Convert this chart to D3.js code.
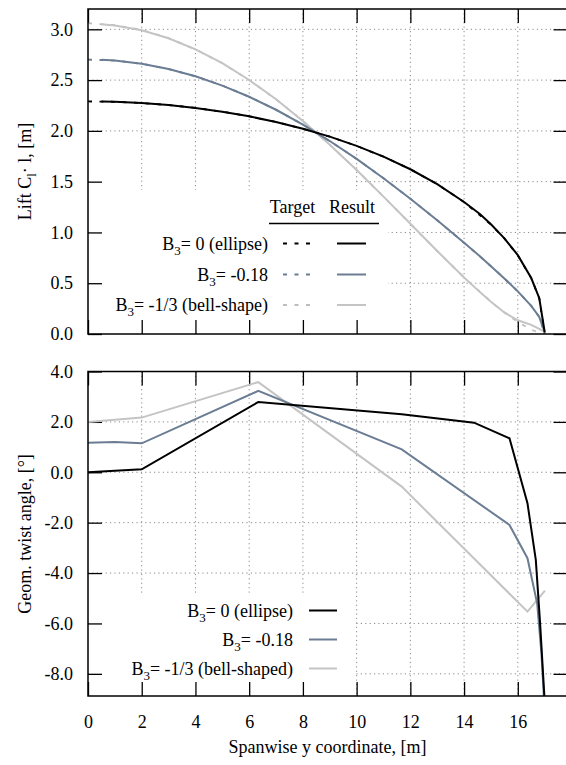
<!DOCTYPE html>
<html><head><meta charset="utf-8">
<script src="https://cdn.jsdelivr.net/npm/d3@7"></script>
<style>body{margin:0;background:#fff;}</style></head>
<body><svg id="c" width="566" height="765"></svg>
<script>
// ---------- data ----------
const spanTarget = [0,1,2,3,4,5,6,7,8,9,10,11,12,13,14,15,15.5,16,16.5,16.8,17];
const liftEllipseTarget = [2.290,2.286,2.274,2.254,2.226,2.189,2.143,2.087,2.021,1.943,1.852,1.746,1.622,1.476,1.299,1.078,0.941,0.774,0.551,0.350,0];
const liftB018Target    = [2.702,2.692,2.661,2.609,2.538,2.446,2.336,2.208,2.062,1.900,1.724,1.534,1.332,1.120,0.899,0.668,0.547,0.420,0.277,0.167,0];
const liftBellTarget    = [3.060,3.040,2.995,2.912,2.803,2.666,2.501,2.311,2.097,1.864,1.615,1.353,1.085,0.817,0.557,0.318,0.212,0.118,0.043,0.011,0];

const spanResult = [0.5,1,2,3,4,5,6,7,8,9,10,11,12,13,14,14.6,15,15.5,16,16.5,16.8,17];
const liftEllipseResult = [2.289,2.286,2.274,2.254,2.226,2.189,2.143,2.087,2.021,1.943,1.852,1.746,1.622,1.476,1.300,1.180,1.080,0.941,0.776,0.551,0.352,0.02];
const liftB018Result    = [2.700,2.692,2.661,2.609,2.538,2.446,2.336,2.208,2.062,1.900,1.724,1.534,1.332,1.120,0.899,0.764,0.668,0.547,0.420,0.277,0.167,0.02];
const liftBellResult    = [3.049,3.037,2.990,2.912,2.803,2.666,2.501,2.311,2.097,1.864,1.615,1.353,1.085,0.817,0.557,0.410,0.318,0.212,0.135,0.090,0.050,0.02];

const twistEllipse = [[0,0.0],[2,0.12],[6.34,2.79],[11.68,2.30],[14.37,1.97],[15.69,1.35],[16.36,-1.23],[16.67,-3.48],[16.83,-6.0],[16.99,-8.9]];
const twistB018    = [[0,1.17],[1,1.20],[2,1.15],[6.34,3.23],[11.68,0.91],[15.69,-2.09],[16.36,-3.41],[16.72,-5.2],[16.88,-7.2],[16.97,-8.9]];
const twistBell    = [[0,2.0],[2,2.17],[6.34,3.58],[11.68,-0.57],[16.36,-5.53],[17.01,-4.70]];

const xTicks = [0,2,4,6,8,10,12,14,16];
const liftTicks = [0,0.5,1,1.5,2,2.5,3];
const twistTicks = [-8,-6,-4,-2,0,2,4];

const colors = {ellipse:"#000000", b018:"#6b7d93", bell:"#c4c4c4"};
const dashColors = {ellipse:"#000000", b018:"#6b7d93", bell:"#bdbdbd"};

// ---------- layout ----------
const svg = d3.select("#c");
const L = 88, R = 567.5;
const x = d3.scaleLinear().domain([0,17.85]).range([L,R]);
const yTop = d3.scaleLinear().domain([0,3.2]).range([334,9]);
const yBot = d3.scaleLinear().domain([-8.88,4]).range([696,371.5]);
const fmt1 = v => d3.format(".1f")(v).replace("\u2212","-");

function panel(y, ticks, fmt, id, masks, draw){
  const g = svg.append("g");
  const [y0,y1] = y.range(); // bottom, top
  g.append("clipPath").attr("id",id).append("rect")
    .attr("x",L).attr("y",y1).attr("width",R-L).attr("height",y0-y1);
  const gridStyle = s=>s.attr("stroke","#8a8a8a").attr("stroke-width",1).attr("stroke-dasharray","1.2,3.2");
  const hg = g.append("g").call(gridStyle);
  ticks.filter(t=>y(t)>y1+1 && y(t)<y0-1).forEach(t=>{
    hg.append("line").attr("x1",L).attr("x2",R).attr("y1",y(t)).attr("y2",y(t));
  });
  masks.h.forEach(m=>g.append("rect").attr("x",m[0]).attr("y",m[1]).attr("width",m[2]).attr("height",m[3]).attr("fill","#fff"));
  const vg = g.append("g").call(gridStyle);
  xTicks.filter(t=>t>0).forEach(t=>{
    vg.append("line").attr("x1",x(t)).attr("x2",x(t)).attr("y1",y1).attr("y2",y0);
  });
  masks.v.forEach(m=>g.append("rect").attr("x",m[0]).attr("y",m[1]).attr("width",m[2]).attr("height",m[3]).attr("fill","#fff"));
  // axes with inward ticks
  const ax = g.append("g").attr("class","axes");
  ax.append("g").attr("transform",`translate(${L},0)`)
    .call(d3.axisLeft(y).tickValues(ticks).tickFormat(fmt).tickSizeInner(-14).tickSizeOuter(0).tickPadding(15));
  ax.append("g").attr("transform",`translate(${R},0)`)
    .call(d3.axisRight(y).tickValues(ticks).tickFormat("").tickSizeInner(-14).tickSizeOuter(0));
  ax.append("g").attr("transform",`translate(0,${y0})`)
    .call(d3.axisBottom(x).tickValues(xTicks).tickFormat(id==="cb"?d3.format("d"):"").tickSizeInner(-14).tickSizeOuter(0).tickPadding(19));
  ax.append("g").attr("transform",`translate(0,${y1})`)
    .call(d3.axisTop(x).tickValues(xTicks).tickFormat("").tickSizeInner(-14).tickSizeOuter(0));
  ax.selectAll(".domain").remove();
  ax.selectAll(".tick line").attr("stroke","#000").attr("stroke-width",1.3);
  const plot = g.append("g").attr("clip-path",`url(#${id})`);
  draw(plot);
  g.append("rect").attr("x",L).attr("y",y1).attr("width",R-L).attr("height",y0-y1)
    .attr("fill","none").attr("stroke","#000").attr("stroke-width",1.5);
  return g;
}

const zip = (xs,ys)=>xs.map((v,i)=>[v,ys[i]]);

// ---------- top panel ----------
const lineTop = d3.line().x(d=>x(d[0])).y(d=>yTop(d[1]));
panel(yTop, liftTicks, fmt1, "ct",
  {h:[[L+1,178,356-L-1,12],[L+1,190,388-L-1,143]], v:[[L+1,190,388-L-1,143]]},
  p=>{
    [["ellipse",liftEllipseTarget],["b018",liftB018Target],["bell",liftBellTarget]].forEach(([k,v])=>{
      p.append("path").attr("d",lineTop(zip(spanTarget,v))).attr("fill","none")
        .attr("stroke",dashColors[k]).attr("stroke-width",1.8).attr("stroke-dasharray","4,7.5");
    });
    [["bell",liftBellResult],["b018",liftB018Result],["ellipse",liftEllipseResult]].forEach(([k,v])=>{
      p.append("path").attr("d",lineTop(zip(spanResult,v))).attr("fill","none")
        .attr("stroke",colors[k]).attr("stroke-width",2);
    });
  });

// ---------- bottom panel ----------
const lineBot = d3.line().x(d=>x(d[0])).y(d=>yBot(d[1]));
panel(yBot, twistTicks, fmt1, "cb",
  {h:[[L+1,595,354-L-1,100]], v:[[L+1,595,354-L-1,100]]},
  p=>{
    [["bell",twistBell],["b018",twistB018],["ellipse",twistEllipse]].forEach(([k,v])=>{
      p.append("path").attr("d",lineBot(v)).attr("fill","none")
        .attr("stroke",colors[k]).attr("stroke-width",2);
    });
  });

// ---------- legends ----------
function bLabel(g, xr, yb, rest){
  const t = g.append("text").attr("x",xr).attr("y",yb).attr("text-anchor","end");
  t.append("tspan").text("B");
  t.append("tspan").attr("dy",5).style("font-size","13px").text("3");
  t.append("tspan").attr("dy",-5).text(rest);
}
const legTop = svg.append("g");
legTop.append("text").attr("x",292.5).attr("y",213).attr("text-anchor","middle").text("Target");
legTop.append("text").attr("x",352).attr("y",213).attr("text-anchor","middle").text("Result");
legTop.append("line").attr("x1",269).attr("x2",379).attr("y1",223.5).attr("y2",223.5).attr("stroke","#000").attr("stroke-width",1.3);
const topRows = [["ellipse","= 0 (ellipse)",243.5],["b018","= -0.18",274.5],["bell","= -1/3 (bell-shape)",305]];
topRows.forEach(([k,txt,yc])=>{
  bLabel(legTop,268,yc+6,txt);
  legTop.append("line").attr("x1",283).attr("x2",313).attr("y1",yc).attr("y2",yc)
    .attr("stroke",dashColors[k]).attr("stroke-width",1.8).attr("stroke-dasharray","4,7.5");
  legTop.append("line").attr("x1",337).attr("x2",366).attr("y1",yc).attr("y2",yc)
    .attr("stroke",colors[k]).attr("stroke-width",2);
});
const legBot = svg.append("g");
const botRows = [["ellipse","= 0 (ellipse)",610.5],["b018","= -0.18",639.5],["bell","= -1/3 (bell-shaped)",668.5]];
botRows.forEach(([k,txt,yc])=>{
  bLabel(legBot,293,yc+6,txt);
  legBot.append("line").attr("x1",309).attr("x2",337).attr("y1",yc).attr("y2",yc)
    .attr("stroke",colors[k]).attr("stroke-width",2);
});

// ---------- axis titles ----------
const t1 = svg.append("text").attr("transform","translate(31,171.5) rotate(-90)").attr("text-anchor","middle");
t1.append("tspan").text("Lift C");
t1.append("tspan").attr("dy",5).style("font-size","13px").text("l");
t1.append("tspan").attr("dy",-5).text("· l, [m]");
svg.append("text").attr("transform","translate(31,534) rotate(-90)").attr("text-anchor","middle")
  .text("Geom. twist angle, [°]");
svg.append("text").attr("x",327.5).attr("y",753).attr("text-anchor","middle").text("Spanwise y coordinate, [m]");

// ---------- fonts (inline) ----------
svg.selectAll("text").style("font-family","'Liberation Serif'").style("font-size","18px").style("fill","#000");
</script></body></html>
